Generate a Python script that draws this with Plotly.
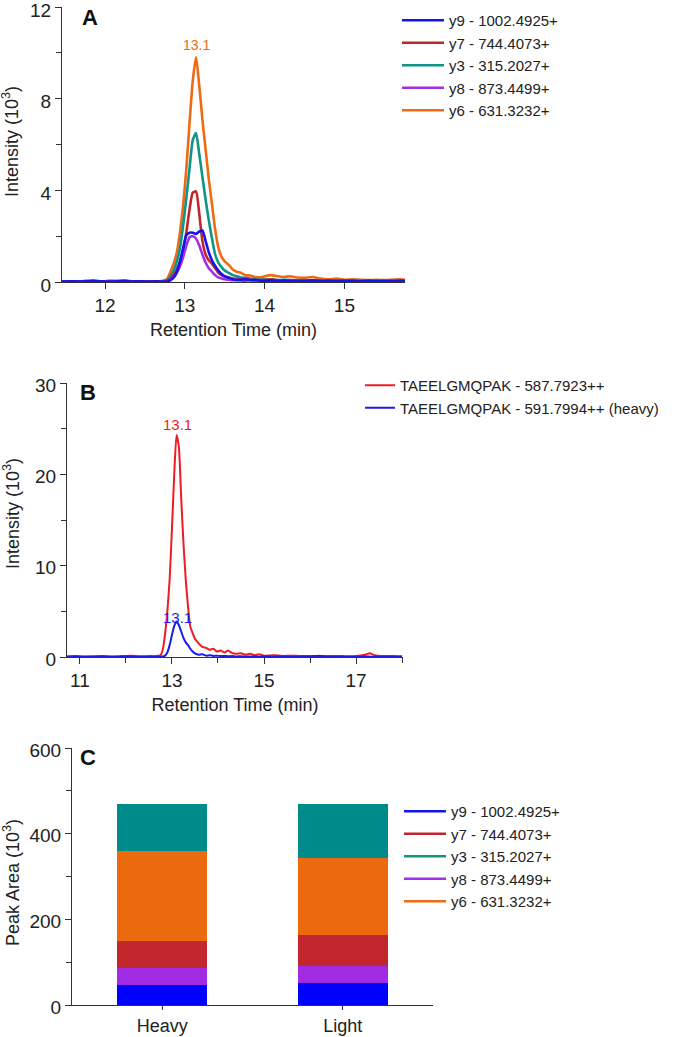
import plotly.graph_objects as go

# ---------------- Panel A: fragment ion chromatograms ----------------
TIME_A = [11.46, 11.55, 11.65, 11.75, 11.85, 11.95, 12.05, 12.15, 12.25, 12.35, 12.45, 12.55, 12.65,
          12.72, 12.78, 12.82, 12.86, 12.90, 12.94, 12.98, 13.02, 13.06, 13.10, 13.14, 13.18, 13.22,
          13.26, 13.30, 13.34, 13.38, 13.42, 13.46, 13.50, 13.55, 13.60, 13.65, 13.70, 13.76, 13.82,
          13.88, 13.94, 14.00, 14.08, 14.16, 14.24, 14.32, 14.40, 14.50, 14.60, 14.70, 14.80, 14.90,
          15.00, 15.10, 15.20, 15.30, 15.40, 15.50, 15.60, 15.70, 15.76]

Y6_A = [0.02, 0.03, 0.02, 0.04, 0.03, 0.02, 0.03, 0.05, 0.06, 0.03, 0.02, 0.03, 0.02,
        0.05, 0.15, 0.45, 0.8, 1.3, 2.2, 3.4, 5.0, 7.0, 8.8, 9.8, 8.6, 7.1,
        5.8, 4.5, 3.4, 2.3, 1.5, 1.1, 0.9, 0.75, 0.55, 0.45, 0.4, 0.3, 0.28,
        0.22, 0.2, 0.25, 0.3, 0.25, 0.22, 0.25, 0.2, 0.18, 0.22, 0.15, 0.12, 0.15,
        0.1, 0.12, 0.1, 0.08, 0.1, 0.08, 0.1, 0.12, 0.1]
Y3_A = [0.01, 0.02, 0.01, 0.02, 0.03, 0.01, 0.02, 0.03, 0.02, 0.02, 0.01, 0.02, 0.02,
        0.02, 0.08, 0.25, 0.5, 0.9, 1.5, 2.5, 3.7, 5.0, 6.2, 6.5, 5.6, 4.6,
        3.6, 2.7, 1.9, 1.2, 0.85, 0.65, 0.5, 0.4, 0.3, 0.25, 0.2, 0.18, 0.15,
        0.12, 0.1, 0.12, 0.1, 0.08, 0.1, 0.07, 0.06, 0.08, 0.05, 0.06, 0.05, 0.07,
        0.05, 0.04, 0.06, 0.04, 0.05, 0.04, 0.05, 0.04, 0.05]
Y7_A = [0.01, 0.02, 0.03, 0.02, 0.01, 0.02, 0.05, 0.03, 0.02, 0.02, 0.01, 0.02, 0.01,
        0.02, 0.05, 0.15, 0.3, 0.55, 0.9, 1.4, 2.2, 3.2, 3.9, 3.95, 3.0, 1.8,
        1.2, 0.95, 0.8, 0.6, 0.4, 0.3, 0.25, 0.2, 0.15, 0.14, 0.12, 0.15, 0.1,
        0.08, 0.1, 0.08, 0.12, 0.08, 0.06, 0.1, 0.06, 0.05, 0.07, 0.05, 0.06, 0.04,
        0.05, 0.06, 0.04, 0.05, 0.04, 0.06, 0.04, 0.05, 0.04]
Y8_A = [0.02, 0.01, 0.02, 0.03, 0.02, 0.01, 0.02, 0.02, 0.03, 0.01, 0.02, 0.01, 0.02,
        0.02, 0.04, 0.1, 0.2, 0.4, 0.7, 1.1, 1.6, 1.95, 2.0, 1.9, 1.6, 1.2,
        0.85, 0.6, 0.45, 0.3, 0.2, 0.15, 0.12, 0.1, 0.08, 0.1, 0.07, 0.06, 0.08,
        0.05, 0.06, 0.05, 0.04, 0.06, 0.04, 0.05, 0.04, 0.03, 0.05, 0.03, 0.04, 0.03,
        0.04, 0.03, 0.04, 0.03, 0.02, 0.03, 0.02, 0.03, 0.02]
Y9_A = [0.02, 0.03, 0.02, 0.04, 0.06, 0.03, 0.02, 0.03, 0.05, 0.02, 0.03, 0.02, 0.03,
        0.02, 0.03, 0.08, 0.2, 0.45, 0.9, 1.5, 2.05, 2.15, 2.15, 2.1, 2.2, 2.25,
        1.8, 1.3, 0.95, 0.7, 0.5, 0.35, 0.25, 0.18, 0.12, 0.08, 0.1, 0.12, 0.08,
        0.1, 0.06, 0.05, 0.07, 0.05, 0.06, 0.04, 0.05, 0.04, 0.06, 0.04, 0.05, 0.04,
        0.05, 0.04, 0.03, 0.05, 0.04, 0.03, 0.04, 0.05, 0.04]

# ---------------- Panel B: precursor chromatograms ----------------
TIME_B = [10.72, 10.9, 11.1, 11.3, 11.5, 11.7, 11.9, 12.1, 12.3, 12.5,
          12.65, 12.75, 12.80, 12.85, 12.90, 12.95, 13.00, 13.05, 13.10, 13.15,
          13.20, 13.25, 13.30, 13.35, 13.40, 13.45, 13.50, 13.58, 13.66, 13.74,
          13.82, 13.90, 13.98, 14.06, 14.14, 14.22, 14.30, 14.40, 14.50, 14.60,
          14.70, 14.80, 14.90, 15.0, 15.2, 15.4, 15.6, 15.8, 16.0, 16.2,
          16.4, 16.6, 16.8, 17.0, 17.2, 17.3, 17.4, 17.6, 17.8, 18.0]
LIGHT_B = [0.05, 0.1, 0.05, 0.08, 0.12, 0.06, 0.1, 0.15, 0.08, 0.1,
           0.1, 0.2, 0.8, 2.5, 5.0, 8.5, 14.0, 20.0, 24.3, 23.0,
           17.5, 12.5, 8.5, 5.5, 3.3, 2.6, 2.0, 1.5, 1.1, 1.0,
           0.8, 0.9, 0.6, 0.7, 0.5, 0.7, 0.45, 0.35, 0.4, 0.25,
           0.35, 0.2, 0.3, 0.15, 0.2, 0.12, 0.15, 0.1, 0.12, 0.08,
           0.1, 0.12, 0.08, 0.1, 0.25, 0.4, 0.2, 0.1, 0.12, 0.08]
HEAVY_B = [0.03, 0.05, 0.03, 0.04, 0.05, 0.03, 0.04, 0.05, 0.03, 0.04,
           0.03, 0.04, 0.05, 0.15, 0.5, 1.3, 2.4, 3.4, 3.9, 3.5,
           2.8, 2.1, 1.6, 1.3, 0.9, 0.6, 0.4, 0.25, 0.3, 0.15,
           0.2, 0.12, 0.15, 0.1, 0.12, 0.08, 0.1, 0.06, 0.08, 0.05,
           0.06, 0.05, 0.04, 0.05, 0.04, 0.05, 0.03, 0.05, 0.04, 0.15,
           0.04, 0.03, 0.04, 0.03, 0.05, 0.04, 0.03, 0.04, 0.03, 0.04]

# ---------------- Panel C: peak areas ----------------
SAMPLES = ["Heavy", "Light"]
AREA_Y9 = [46.6, 50.5]
AREA_Y8 = [39.0, 41.0]
AREA_Y7 = [63.5, 71.5]
AREA_Y6 = [211.5, 180.5]
AREA_Y3 = [109.5, 126.5]

ION_NAMES = {"y9": "y9 - 1002.4925+", "y7": "y7 - 744.4073+", "y3": "y3 - 315.2027+",
             "y8": "y8 - 873.4499+", "y6": "y6 - 631.3232+"}
LINE_COL = {"y9": "#1414F0", "y7": "#C0272D", "y3": "#0E9488", "y8": "#A030E8", "y6": "#EE6A14"}
BAR_COL = {"y9": "#0000FF", "y7": "#C1272D", "y3": "#008B8A", "y8": "#A02BE2", "y6": "#EC6A0E"}
RANK = {"y9": 1, "y7": 2, "y3": 3, "y8": 4, "y6": 5}

FONT = "Liberation Sans, Arial, sans-serif"
TXT = "#222222"

fig = go.Figure()

# Panel A lines (draw order: orange, teal, red, purple, blue on top)
for key, vals in [("y6", Y6_A), ("y3", Y3_A), ("y7", Y7_A), ("y8", Y8_A), ("y9", Y9_A)]:
    fig.add_trace(go.Scatter(x=TIME_A, y=vals, mode="lines", name=ION_NAMES[key],
                             line=dict(color=LINE_COL[key], width=2.6, shape="spline", smoothing=0.6),
                             xaxis="x", yaxis="y", legend="legend", legendrank=RANK[key]))

# Panel B lines
fig.add_trace(go.Scatter(x=TIME_B, y=LIGHT_B, mode="lines", name="TAEELGMQPAK - 587.7923++",
                         line=dict(color="#EE1C24", width=2, shape="spline", smoothing=0.6),
                         xaxis="x2", yaxis="y2", legend="legend2", legendrank=1))
fig.add_trace(go.Scatter(x=TIME_B, y=HEAVY_B, mode="lines", name="TAEELGMQPAK - 591.7994++ (heavy)",
                         line=dict(color="#1C1CE8", width=2, shape="spline", smoothing=0.6),
                         xaxis="x2", yaxis="y2", legend="legend2", legendrank=2))

# Panel C stacked bars (bottom to top)
for key, vals in [("y9", AREA_Y9), ("y8", AREA_Y8), ("y7", AREA_Y7), ("y6", AREA_Y6), ("y3", AREA_Y3)]:
    fig.add_trace(go.Bar(x=SAMPLES, y=vals, name=ION_NAMES[key], marker=dict(color=BAR_COL[key], line=dict(width=0)),
                         width=0.5, xaxis="x3", yaxis="y3", showlegend=False, legend="legend3"))
# Panel C legend entries (shown as lines like in the original)
for key in ["y9", "y7", "y3", "y8", "y6"]:
    fig.add_trace(go.Scatter(x=[None], y=[None], mode="lines", name=ION_NAMES[key],
                             line=dict(color=LINE_COL[key], width=2.6),
                             xaxis="x3", yaxis="y3", legend="legend3", legendrank=RANK[key]))

W, H = 676, 1037
def px_x(a, b):
    return [a / W, b / W]
def px_y(top, bottom):
    return [1 - bottom / H, 1 - top / H]

axis_common = dict(showline=True, linecolor="#333333", linewidth=1, ticks="outside", ticklen=6,
                   tickcolor="#333333", showgrid=False, zeroline=False, automargin=False,
                   ticklabeloverflow="allow",
                   tickfont=dict(family=FONT, size=19, color=TXT))
title_font = dict(family=FONT, size=18, color=TXT)
minor_common = dict(ticks="outside", ticklen=5, tickcolor="#333333")
legend_common = dict(xanchor="left", yanchor="top", bgcolor="rgba(0,0,0,0)", traceorder="normal",
                     font=dict(family=FONT, size=15, color=TXT), tracegroupgap=0)

fig.update_layout(
    width=W, height=H, margin=dict(l=0, r=0, t=0, b=0, autoexpand=False),
    plot_bgcolor="white", paper_bgcolor="white", barmode="stack",
    font=dict(family=FONT, color=TXT),
    xaxis=dict(axis_common, domain=px_x(62, 405), anchor="y", range=[11.46, 15.76],
               tickvals=[12, 13, 14, 15],
               title=dict(text="Retention Time (min)", font=title_font, standoff=8)),
    yaxis=dict(axis_common, domain=px_y(7, 282), anchor="x", range=[0, 12], ticklabelshift=3,
               tickvals=[0, 4, 8, 12], minor=dict(minor_common, dtick=2)),
    xaxis2=dict(axis_common, domain=px_x(67, 403), anchor="y2", range=[10.72, 18.02],
                tickvals=[11, 13, 15, 17], minor=dict(minor_common, dtick=1, tick0=11),
                title=dict(text="Retention Time (min)", font=title_font, standoff=8)),
    yaxis2=dict(axis_common, domain=px_y(383, 657), anchor="x2", range=[0, 30], ticklabelshift=2,
                tickvals=[0, 10, 20, 30], minor=dict(minor_common, dtick=5)),
    xaxis3=dict(axis_common, domain=px_x(72, 433), anchor="y3", range=[-0.5, 1.5], ticklen=4,
                tickfont=dict(family=FONT, size=18, color=TXT)),
    yaxis3=dict(axis_common, domain=px_y(748, 1005), anchor="x3", range=[0, 600], ticklabelshift=2,
                tickvals=[0, 200, 400, 600], minor=dict(minor_common, dtick=100)),
    legend=dict(legend_common, x=397 / W, y=1 - 4 / H, itemwidth=42),
    legend2=dict(legend_common, x=360 / W, y=1 - 369 / H, itemwidth=30),
    legend3=dict(legend_common, x=399 / W, y=1 - 795 / H, itemwidth=42),
    annotations=[
        # y-axis titles
        dict(text="Intensity (10<sup>3</sup>)", xref="paper", yref="paper", x=11 / W, y=1 - 142 / H,
             xanchor="center", yanchor="middle", textangle=-90, showarrow=False, font=title_font),
        dict(text="Intensity (10<sup>3</sup>)", xref="paper", yref="paper", x=11 / W, y=1 - 514 / H,
             xanchor="center", yanchor="middle", textangle=-90, showarrow=False, font=title_font),
        dict(text="Peak Area (10<sup>3</sup>)", xref="paper", yref="paper", x=11 / W, y=1 - 883 / H,
             xanchor="center", yanchor="middle", textangle=-90, showarrow=False, font=title_font),
        # panel letters
        dict(text="<b>A</b>", xref="paper", yref="paper", x=90 / W, y=1 - 18 / H, xanchor="center",
             yanchor="middle", showarrow=False, font=dict(family=FONT, size=22, color="#111111")),
        dict(text="<b>B</b>", xref="paper", yref="paper", x=88 / W, y=1 - 392 / H, xanchor="center",
             yanchor="middle", showarrow=False, font=dict(family=FONT, size=22, color="#111111")),
        dict(text="<b>C</b>", xref="paper", yref="paper", x=88 / W, y=1 - 757 / H, xanchor="center",
             yanchor="middle", showarrow=False, font=dict(family=FONT, size=22, color="#111111")),
        # peak labels
        dict(text="13.1", xref="x", yref="y", x=13.14, y=9.8, yanchor="bottom", yshift=2, showarrow=False,
             font=dict(family=FONT, size=14, color="#EE6A14")),
        dict(text="13.1", xref="x2", yref="y2", x=13.12, y=24.3, yanchor="bottom", yshift=0, showarrow=False,
             font=dict(family=FONT, size=15, color="#EE1C24")),
        dict(text="13.1", xref="x2", yref="y2", x=13.12, y=3.9, yanchor="middle", yshift=4, showarrow=False,
             font=dict(family=FONT, size=15, color="#1C1CE8")),
    ],
)

fig.write_html("out.html", config={"displayModeBar": False},
               post_script="document.body.style.margin='0px';")
